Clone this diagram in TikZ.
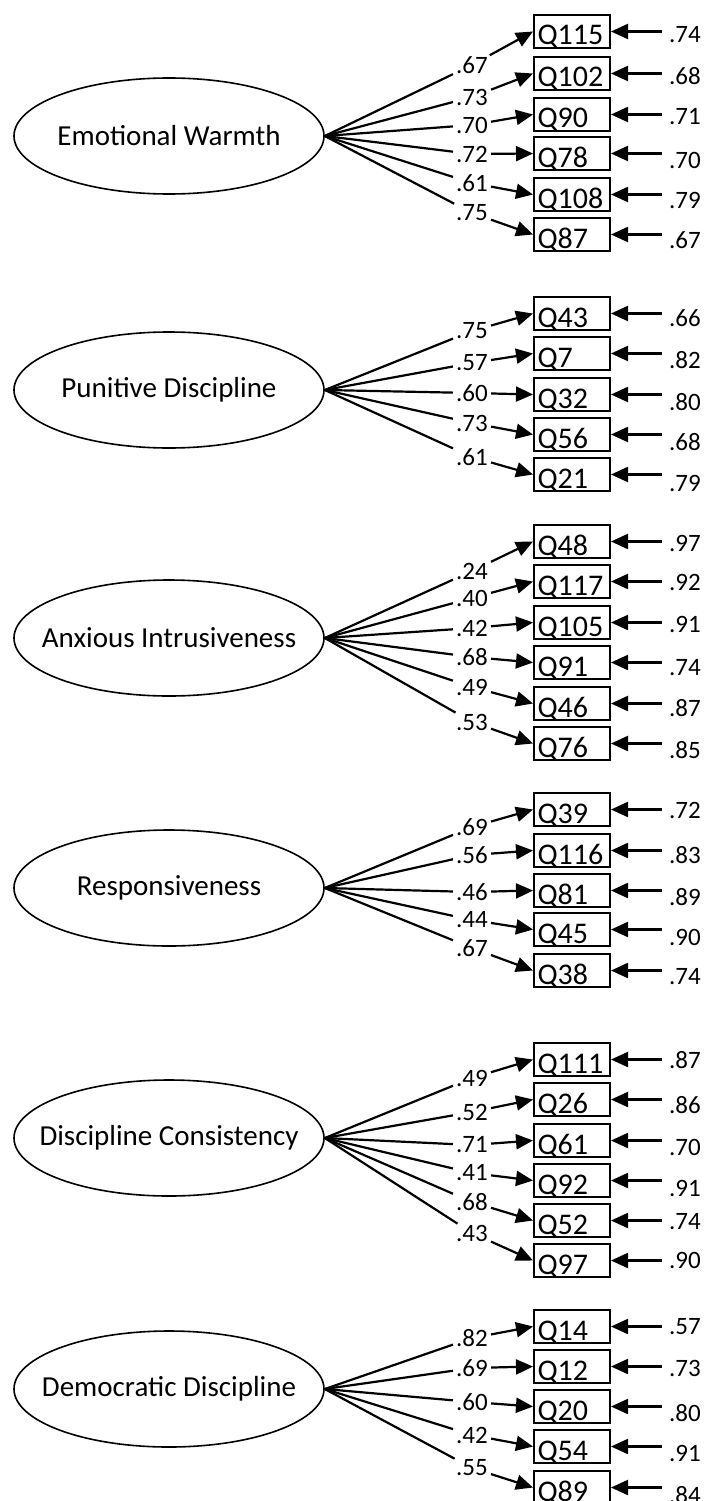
\documentclass[tikz,border=0pt]{standalone}
\usepackage{fontspec}
\setmainfont{Carlito}
\usetikzlibrary{arrows.meta,shapes.geometric}
\tikzset{
  latent/.style={draw, ellipse, line width=1.6pt, minimum width=310pt, minimum height=116pt, inner sep=0pt, font=\fontsize{29}{30}\selectfont},
  obs/.style={draw, rectangle, line width=2pt, minimum width=76pt, minimum height=33pt, inner xsep=3.5pt, inner ysep=3pt, text width=69pt, align=left, text height=27pt, text depth=0pt, anchor=north west, font=\fontsize{30}{30}\selectfont},
  load/.style={inner xsep=3pt, inner ysep=1pt, font=\fontsize{25}{25}\selectfont},
  err/.style={inner xsep=7pt, inner ysep=1pt, font=\fontsize{25}{25}\selectfont},
  conn/.style={line width=2.2pt},
  arr/.style={conn, -{Triangle[length=17pt,width=15pt]}}
}
\newcommand\fgroup[4]{%
  \node[latent] (#1) at (169,#3) {\makebox[0pt]{#2}};
  \foreach \t/\ly/\ey/\q/\lv/\ev [count=\i] in {#4} {
    \node[obs] (#1b\i) at (533,\t) {\q};
    \node[load] (#1l\i) at (472,\ly) {\lv};
    \node[err] (#1e\i) at (685,\ey) {\ev};
    \draw[conn] (#1.east) -- (#1l\i);
    \draw[arr] (#1l\i) -- (#1b\i.west);
    \draw[arr] (#1e\i.west |- #1b\i.east) -- (#1b\i.east);
  }%
}
\begin{document}
\begin{tikzpicture}[x=1pt,y=-1pt]
\useasboundingbox (0,0) rectangle (707,1501);
\clip (0,0) rectangle (707,1501);
\fgroup{ew}{Emotional Warmth}{136}{14/65/35/Q115/.67/.74, 56/97/76/Q102/.73/.68, 97/125/117/Q90/.70/.71, 136/154/160/Q78/.72/.70, 177/183/200/Q108/.61/.79, 217/213/240/Q87/.75/.67}
\fgroup{pd}{Punitive Discipline}{390}{296/331/318/Q43/.75/.66, 336/363/360/Q7/.57/.82, 377/393/402/Q32/.60/.80, 417/423/442/Q56/.73/.68, 457/457/483/Q21/.61/.79}
\fgroup{ai}{Anxious Intrusiveness}{638}{524/571/543/Q48/.24/.97, 564/598/582/Q117/.40/.92, 605/628/624/Q105/.42/.91, 645/657/668/Q91/.68/.74, 686/687/708/Q46/.49/.87, 726/722/750/Q76/.53/.85}
\fgroup{rs}{Responsiveness}{888}{792/827/810/Q39/.69/.72, 833/855/855/Q116/.56/.83, 873/892/897/Q81/.46/.89, 912/920/937/Q45/.44/.90, 953/948/977/Q38/.67/.74}
\fgroup{dc}{Discipline Consistency}{1138}{1042/1078/1060/Q111/.49/.87, 1082/1112/1105/Q26/.52/.86, 1123/1145/1147/Q61/.71/.70, 1163/1173/1188/Q92/.41/.91, 1203/1202/1222/Q52/.68/.74, 1243/1233/1260/Q97/.43/.90}
\fgroup{dd}{Democratic Discipline}{1389}{1309/1338/1327/Q14/.82/.57, 1349/1368/1368/Q12/.69/.73, 1389/1402/1413/Q20/.60/.80, 1429/1435/1453/Q54/.42/.91, 1470/1468/1495/Q89/.55/.84}
\end{tikzpicture}
\end{document}
